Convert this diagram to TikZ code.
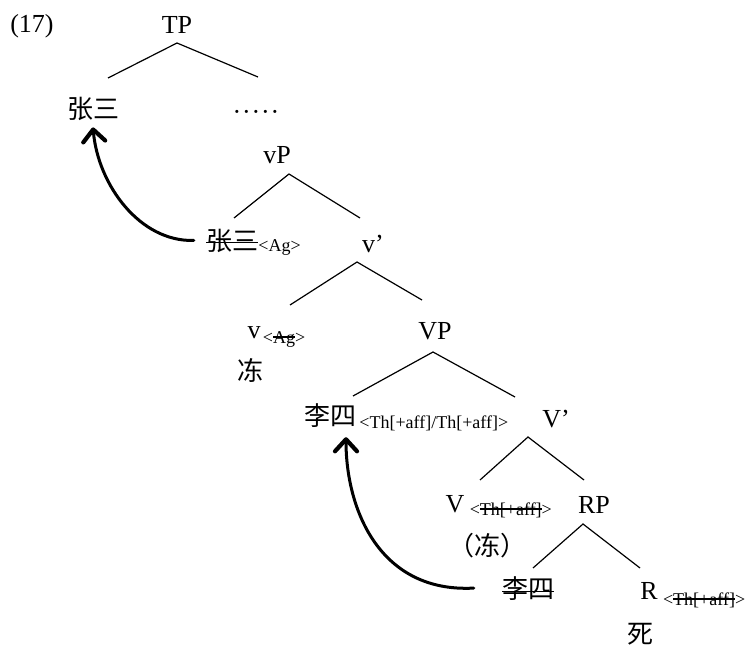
\documentclass[tikz,border=0pt]{standalone}
\usepackage{fontspec}
\setmainfont{Liberation Serif}
\newfontfamily\cjk{Noto Sans CJK SC}
\usetikzlibrary{arrows.meta}
% struck-through text: #1 = height of the bar above the baseline
\newcommand\strk[2]{\setbox0\hbox{#2}\rlap{\copy0}\rule[#1]{\wd0}{1.4pt}}
\newcommand\dotrow{\makebox[9.5pt]{·}\makebox[9.5pt]{·}\makebox[9.5pt]{·}\makebox[9.5pt]{·}\makebox[9.5pt]{·}}
\begin{document}
\begin{tikzpicture}[x=1pt,y=-1pt,
  lab/.style={anchor=base,inner sep=0pt,font=\fontsize{26}{30}\selectfont},
  sub/.style={anchor=base west,inner sep=0pt,font=\fontsize{18}{20}\selectfont},
  branch/.style={line width=1.2pt},
  move/.style={line width=3pt,line cap=round,
    -{Straight Barb[length=12pt,width=22pt,line width=4.2pt,round]}}]
\useasboundingbox (0,0) rectangle (750,645);

% labels
\node[lab] (ex) at (32,32) {(17)};
\node[lab] (tp) at (177,33) {TP};
\node[lab] (zs1) at (93,118) {\cjk 张三};
\node[lab] (dots) at (256,120) {\dotrow};
\node[lab] (vp) at (277,163) {vP};
\node[lab] (zs2) at (232,250) {\cjk\strk{0.27em}{张三}};
\node[sub] (zs2s) at ([yshift=-1pt]zs2.base east) {<Ag>};
\node[lab] (vbar) at (373,252) {v’};
\node[lab] (vsm) at (254,338) {v};
\node[sub] (vsms) at ([xshift=2pt,yshift=-5pt]vsm.base east) {<\strk{0.3em}{Ag}>};
\node[lab] (dong1) at (250,380) {\cjk 冻};
\node[lab] (VP) at (435,339) {VP};
\node[lab] (ls1) at (330,425) {\cjk 李四};
\node[sub] (ls1s) at ([xshift=3pt,yshift=-3pt]ls1.base east) {<Th[+aff]/Th[+aff]>};
\node[lab] (Vbar) at (556,427) {V’};
\node[lab] (Vsm) at (455,512) {V};
\node[sub] (Vsms) at ([xshift=5pt,yshift=-3pt]Vsm.base east) {<\strk{0.3em}{Th[+aff]}>};
\node[lab] (RP) at (594,513) {RP};
\node[lab] (dong2) at (487,555) {\cjk （冻）};
\node[lab] (ls2) at (528,598) {\cjk\strk{0.22em}{李四}};
\node[lab] (R) at (649,599) {R};
\node[sub] (Rs) at ([xshift=5pt,yshift=-6pt]R.base east) {<\strk{0.3em}{Th[+aff]}>};
\node[lab] (si) at (640,643) {\cjk 死};

% branch points
\coordinate (tp-t) at (177,43);  \coordinate (tp-l) at (108,78);  \coordinate (tp-r) at (258,77);
\coordinate (vp-t) at (289,174); \coordinate (vp-l) at (234,218); \coordinate (vp-r) at (360,218);
\coordinate (vb-t) at (357,262); \coordinate (vb-l) at (290,305); \coordinate (vb-r) at (422,300);
\coordinate (VP-t) at (433,352); \coordinate (VP-l) at (353,396); \coordinate (VP-r) at (515,397);
\coordinate (Vb-t) at (528,437); \coordinate (Vb-l) at (480,480); \coordinate (Vb-r) at (584,480);
\coordinate (RP-t) at (583,524); \coordinate (RP-l) at (533,568); \coordinate (RP-r) at (640,568);

\draw[branch] (tp-l) -- (tp-t) -- (tp-r);
\draw[branch] (vp-l) -- (vp-t) -- (vp-r);
\draw[branch] (vb-l) -- (vb-t) -- (vb-r);
\draw[branch] (VP-l) -- (VP-t) -- (VP-r);
\draw[branch] (Vb-l) -- (Vb-t) -- (Vb-r);
\draw[branch] (RP-l) -- (RP-t) -- (RP-r);

% movement arrows
\draw[move] ([xshift=-12pt]zs2.west) .. controls (140,242) and (98,185) .. ([yshift=-7pt]zs1.south);
\draw[move] ([xshift=-28pt]ls2.west) .. controls (380,593) and (346,510) .. ([xshift=16pt,yshift=-10pt]ls1.south);
\end{tikzpicture}
\end{document}
